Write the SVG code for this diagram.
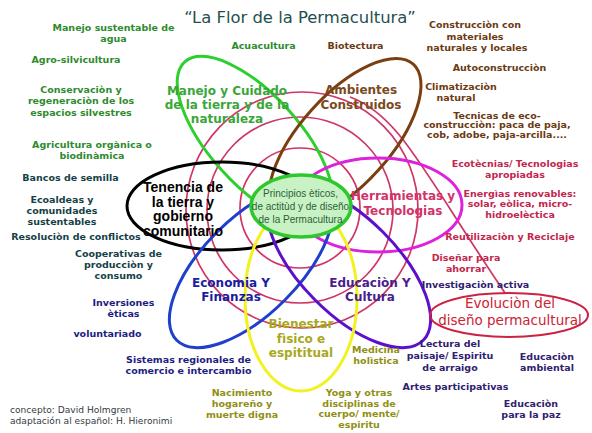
<svg xmlns="http://www.w3.org/2000/svg" width="592" height="433" viewBox="0 0 592 433">
<style>
.ring{fill:none;stroke-width:3}
.red{fill:none;stroke:#cf3565;stroke-width:1.7}
text{text-anchor:middle}
.main{font-family:"DejaVu Sans",Verdana,sans-serif;font-weight:bold;font-size:12px}
.sm{font-family:"DejaVu Sans",Verdana,sans-serif;font-weight:bold;font-size:9.5px}
.ten{font-family:"Liberation Sans",Arial,sans-serif;font-weight:bold;font-size:14px;fill:#000}
.ctr{font-family:"Liberation Sans",Arial,sans-serif;font-size:10px;fill:#2b5f3a}
.g{fill:#2e8b2e}.gm{fill:#3aa63a}
.b{fill:#6b3a12}.bm{fill:#7a4a1e}
.c{fill:#c2264e}.cm{fill:#d0336a}
.n{fill:#1d1d80}.nm{fill:#1c1ca0}
.p{fill:#2f2070}.pm{fill:#4a1e8c}
.y{fill:#8f8f14}.ym{fill:#a8a820}
.t{fill:#163f48}
</style>
<rect width="592" height="433" fill="#fff"/>
<g id="connectors">
  <ellipse class="red" cx="300" cy="208" rx="60" ry="60"/>
  <ellipse class="red" cx="300" cy="210" rx="93" ry="93"/>
  <ellipse class="red" cx="302" cy="210" rx="116" ry="118"/>
  <path class="red" d="M350 97 C400 115 425 175 505 293"/>
</g>
<g id="n-manejo"><ellipse class="ring" stroke="#2dcf2d" cx="255" cy="140" rx="105" ry="45" transform="rotate(48 255 140)"/></g>
<g id="n-ambientes"><ellipse class="ring" stroke="#7a3e10" cx="345" cy="140" rx="102" ry="45" transform="rotate(-48 345 140)"/></g>
<g id="n-tenencia"><ellipse class="ring" stroke="#000" stroke-width="3.5" cx="222" cy="206" rx="95" ry="44"/></g>
<g id="n-herramientas"><ellipse class="ring" stroke="#dd22dd" cx="378" cy="205" rx="84" ry="47"/></g>
<g id="n-economia"><ellipse class="ring" stroke="#1f3fcc" cx="251" cy="266" rx="105" ry="48" transform="rotate(-45 251 266)"/></g>
<g id="n-educacion"><ellipse class="ring" stroke="#5c10cc" cx="349" cy="266" rx="105" ry="48" transform="rotate(45 349 266)"/></g>
<g id="n-bienestar"><ellipse class="ring" stroke="#f2f222" cx="301" cy="298" rx="56" ry="93"/></g>
<g id="n-principios">
  <ellipse cx="301" cy="206" rx="50" ry="31" fill="#c9f2c4" stroke="#2ec82e" stroke-width="3.5"/>
  <text class="ctr" x="300.5" y="196.5">Principios èticos,</text>
  <text class="ctr" x="300.5" y="209.5">de actitùd y de diseño</text>
  <text class="ctr" x="300.5" y="222.5">de la Permacultura</text>
</g>
<g id="n-evolucion">
  <ellipse cx="509" cy="315" rx="79" ry="22" fill="none" stroke="#cc2244" stroke-width="2"/>
  <text x="510" y="308" font-family="DejaVu Sans,Verdana,sans-serif" font-size="13.5" fill="#cc2233">Evoluciòn del</text>
  <text x="510" y="325" font-family="DejaVu Sans,Verdana,sans-serif" font-size="13.5" fill="#cc2233">diseño permacultural</text>
</g>
<g id="labels-main">
  <text class="main gm" x="227" y="95">Manejo y Cuidado</text>
  <text class="main gm" x="227" y="109">de la tierra y de la</text>
  <text class="main gm" x="227" y="123">naturaleza</text>
  <text class="main bm" x="361" y="94">Ambientes</text>
  <text class="main bm" x="361" y="109">Construidos</text>
  <text class="ten" x="183" y="192">Tenencia de</text>
  <text class="ten" x="183" y="206.5">la tierra y</text>
  <text class="ten" x="183" y="221">gobierno</text>
  <text class="ten" x="183" y="235.5">comunitario</text>
  <text class="main cm" x="403" y="200">Herramientas y</text>
  <text class="main cm" x="403" y="215">Tecnologias</text>
  <text class="main nm" x="231" y="287">Economia Y</text>
  <text class="main nm" x="231" y="301">Finanzas</text>
  <text class="main pm" x="370" y="287">Educaciòn Y</text>
  <text class="main pm" x="370" y="301">Cultura</text>
  <text class="main ym" x="301" y="328">Bienestar</text>
  <text class="main ym" x="301" y="343">fìsico e</text>
  <text class="main ym" x="301" y="357">espititual</text>
</g>
<g id="title">
  <text x="300" y="23" font-family="DejaVu Sans,Verdana,sans-serif" font-size="16.4" fill="#1f4f4f">“La Flor de la Permacultura”</text>
</g>
<g id="labels-small">
  <text class="sm g" x="113.5" y="31">Manejo sustentable de</text>
  <text class="sm g" x="113.5" y="42">agua</text>
  <text class="sm g" x="76" y="63">Agro-silvicultura</text>
  <text class="sm g" x="81" y="92.5">Conservaciòn y</text>
  <text class="sm g" x="81" y="104">regeneraciòn de los</text>
  <text class="sm g" x="81" y="115.5">espacios silvestres</text>
  <text class="sm g" x="92" y="148">Agricultura orgànica o</text>
  <text class="sm g" x="92" y="159">biodinàmica</text>
  <text class="sm g" x="263.5" y="49">Acuacultura</text>
  <text class="sm b" x="355.5" y="49">Biotectura</text>
  <text class="sm b" x="475" y="28">Construcciòn con</text>
  <text class="sm b" x="475" y="39.5">materiales</text>
  <text class="sm b" x="477" y="51">naturales y locales</text>
  <text class="sm b" x="499.5" y="71">Autoconstrucciòn</text>
  <text class="sm b" x="461" y="90">Climatizaciòn</text>
  <text class="sm b" x="456" y="100.5">natural</text>
  <text class="sm b" x="497" y="118.5">Tecnicas de eco-</text>
  <text class="sm b" x="497" y="128">construcciòn: paca de paja,</text>
  <text class="sm b" x="497" y="137.5">cob, adobe, paja-arcilla....</text>
  <text class="sm c" x="515" y="167">Ecotècnias/ Tecnologias</text>
  <text class="sm c" x="515" y="177.5">apropiadas</text>
  <text class="sm c" x="520" y="197">Energìas renovables:</text>
  <text class="sm c" x="520" y="207">solar, eòlica, micro-</text>
  <text class="sm c" x="520" y="217.5">hidroelèctica</text>
  <text class="sm c" x="510" y="240">Reutilizaciòn y Reciclaje</text>
  <text class="sm c" x="466" y="261">Diseñar para</text>
  <text class="sm c" x="466" y="272">ahorrar</text>
  <text class="sm p" x="475.5" y="288">Investigaciòn activa</text>
  <text class="sm p" x="450" y="347">Lectura del</text>
  <text class="sm p" x="450" y="359">paisaje/ Espiritu</text>
  <text class="sm p" x="450" y="371">de arraigo</text>
  <text class="sm p" x="547" y="360">Educaciòn</text>
  <text class="sm p" x="547" y="371">ambiental</text>
  <text class="sm p" x="455.5" y="390">Artes participativas</text>
  <text class="sm p" x="531" y="407">Educaciòn</text>
  <text class="sm p" x="531" y="418">para la paz</text>
  <text class="sm y" x="376" y="353">Medicina</text>
  <text class="sm y" x="376" y="363.5">holìstica</text>
  <text class="sm y" x="359" y="396">Yoga y otras</text>
  <text class="sm y" x="359" y="406.5">disciplinas de</text>
  <text class="sm y" x="359" y="417">cuerpo/ mente/</text>
  <text class="sm y" x="359" y="427.5">espiritu</text>
  <text class="sm y" x="242" y="396">Nacimiento</text>
  <text class="sm y" x="242" y="407">hogareño y</text>
  <text class="sm y" x="242" y="418">muerte digna</text>
  <text class="sm n" x="188.5" y="363">Sistemas regionales de</text>
  <text class="sm n" x="188.5" y="374">comercio e intercambio</text>
  <text class="sm n" x="123.5" y="306">Inversiones</text>
  <text class="sm n" x="123.5" y="316.5">èticas</text>
  <text class="sm n" x="107.5" y="337">voluntariado</text>
  <text class="sm t" x="70.5" y="181">Bancos de semilla</text>
  <text class="sm t" x="62" y="203">Ecoaldeas y</text>
  <text class="sm t" x="62" y="214">comunidades</text>
  <text class="sm t" x="62" y="224.5">sustentables</text>
  <text class="sm t" x="76" y="240">Resoluciòn de conflictos</text>
  <text class="sm t" x="118.5" y="257">Cooperativas de</text>
  <text class="sm t" x="118.5" y="268">producciòn y</text>
  <text class="sm t" x="118.5" y="278.5">consumo</text>
</g>
<g id="credits" font-family="DejaVu Sans,Verdana,sans-serif" font-size="9.1" fill="#333b45">
  <text x="10" y="413" style="text-anchor:start">concepto: David Holmgren</text>
  <text x="10" y="424" style="text-anchor:start">adaptación al español: H. Hieronimi</text>
</g>
</svg>
